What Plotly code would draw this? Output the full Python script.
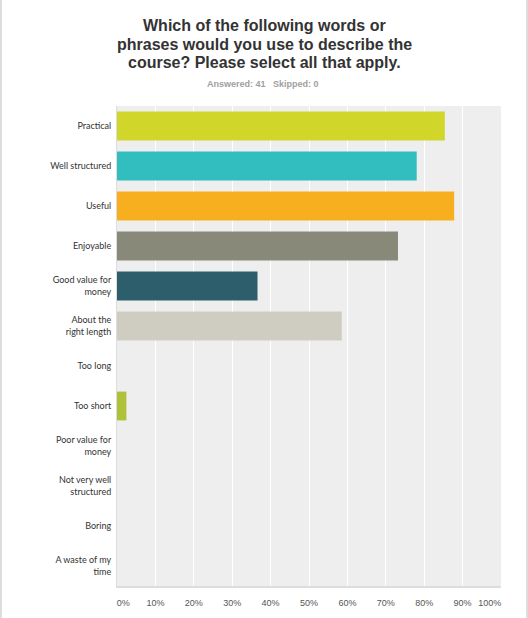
import plotly.graph_objects as go

categories = ["Practical", "Well structured", "Useful", "Enjoyable", "Good value for<br>money",
              "About the<br>right length", "Too long", "Too short", "Poor value for<br>money",
              "Not very well<br>structured", "Boring", "A waste of my<br>time"]
percent = [85.37, 78.05, 87.80, 73.17, 36.59, 58.54, 0, 2.44, 0, 0, 0, 0]
colors = ["#D0D62A", "#32BDBE", "#F7AF1F", "#888979", "#2D5E6B", "#CFCDC1",
          "#AFC13A", "#AFC13A", "#AFC13A", "#AFC13A", "#AFC13A", "#AFC13A"]
tick_vals = [0, 10, 20, 30, 40, 50, 60, 70, 80, 90, 100]
tick_text = ["\u00a0\u00a0\u00a0\u00a0\u00a00%", "10%", "20%", "30%", "40%", "50%", "60%", "70%", "80%", "90%",
             "100%\u00a0\u00a0\u00a0\u00a0\u00a0\u00a0\u00a0\u00a0\u00a0"]
title_lines = ["Which of the following words or",
               "phrases would you use to describe the",
               "course? Please select all that apply."]
subtitle = "Answered: 41\u00a0\u00a0\u00a0Skipped: 0"

fig = go.Figure(go.Bar(
    x=percent, y=categories, orientation="h",
    marker=dict(color=colors, line=dict(width=0)),
    width=0.72, hoverinfo="skip",
))

W, H = 528, 618
L, R, T, B = 117, 27, 106, 32
pw, ph = W - L - R, H - T - B

def px_x(p):
    return (p - L) / pw

def px_y(p):
    return (H - B - p) / ph

title_font = dict(family="Liberation Sans, Arial, sans-serif", size=16, color="#333333")
annotations = []
for i, line in enumerate(title_lines):
    annotations.append(dict(text="<b>" + line + "</b>", xref="paper", yref="paper",
                            x=px_x(264), y=px_y(25 + 19 * i), xanchor="center", yanchor="middle",
                            showarrow=False, font=title_font))
annotations.append(dict(text="<b>" + subtitle + "</b>",
                        xref="paper", yref="paper", x=px_x(263), y=px_y(84), xanchor="center", yanchor="middle",
                        showarrow=False,
                        font=dict(family="Liberation Sans, Arial, sans-serif", size=9, color="#A0A0A0")))

fig.update_layout(
    width=W, height=H,
    margin=dict(l=L, r=R, t=T, b=B),
    paper_bgcolor="white", plot_bgcolor="#EEEEEE",
    showlegend=False,
    font=dict(family="Lato, Arial, sans-serif", size=9, color="#333333"),
    annotations=annotations,
    shapes=[
        dict(type="line", xref="paper", yref="paper", x0=px_x(1), x1=px_x(1), y0=px_y(0), y1=px_y(618),
             line=dict(color="#DDDDDD", width=2)),
        dict(type="line", xref="paper", yref="paper", x0=px_x(527), x1=px_x(527), y0=px_y(0), y1=px_y(618),
             line=dict(color="#DDDDDD", width=2)),
    ],
)

fig.update_xaxes(
    range=[0, 100], tickvals=tick_vals, ticktext=tick_text, automargin=False,
    showgrid=True, gridcolor="#FFFFFF", gridwidth=1,
    zeroline=False, showline=True, linecolor="#DDDDDD", linewidth=2,
    ticks="outside", ticklen=7, tickcolor="rgba(0,0,0,0)",
    tickfont=dict(family="Liberation Sans, Arial, sans-serif", size=9, color="#555555"),
)
fig.update_yaxes(
    autorange="reversed", showgrid=False, zeroline=False, automargin=False,
    showline=True, linecolor="#DDDDDD", linewidth=1,
    ticks="outside", ticklen=3, tickcolor="rgba(0,0,0,0)",
    tickfont=dict(family="Lato, Arial, sans-serif", size=9, color="#333333"),
)

fig.write_html("out.html", config={"displayModeBar": False},
               post_script="document.body.style.margin='0';document.body.style.overflow='hidden';")
